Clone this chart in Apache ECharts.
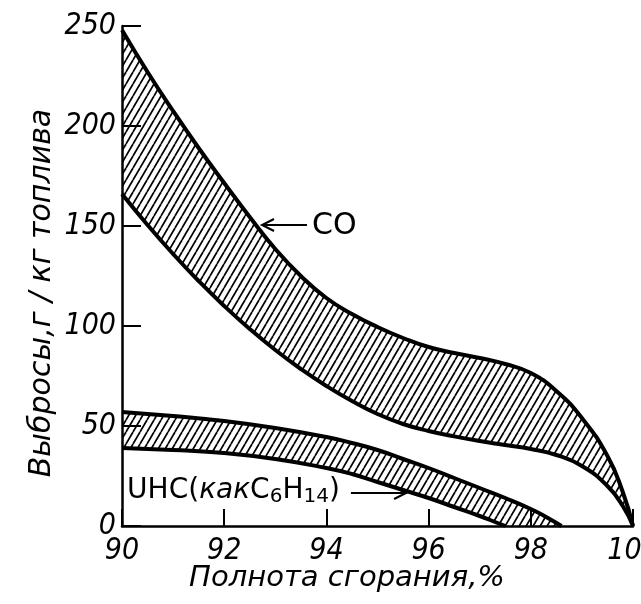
<!DOCTYPE html>
<html>
<head>
<meta charset="utf-8">
<script src="https://cdn.jsdelivr.net/npm/echarts@6/dist/echarts.min.js"></script>
<style>
  html, body { margin: 0; padding: 0; background: #fff; }
  #chart { width: 641px; height: 604px; }
</style>
</head>
<body>
<div id="chart"></div>
<script>
// Combustion completeness, % — CO emission band (upper / lower limits, g per kg fuel)
const coX    = [90, 90.5, 91, 91.5, 92, 92.5, 93, 93.5, 94, 94.5, 95, 95.5, 96, 96.5, 97, 97.5, 98, 98.5, 99, 99.5, 99.8, 100];
const coHigh = [248, 227, 207.5, 189, 171.5, 154.5, 138.5, 125, 114, 106, 99.5, 94, 89.5, 86.5, 84, 81, 76.5, 67.5, 54, 35, 17, 0];
const coLow  = [166, 150.5, 136, 122.5, 110, 98.5, 88, 78.5, 70, 62.5, 56, 51, 47.5, 44.8, 42.5, 40.5, 38.5, 35.5, 30, 20, 10, 0];

// Unburned hydrocarbons (as C6H14) band
const uhcHighX = [90, 91, 92, 93, 94, 94.5, 95, 95.5, 96, 96.5, 97, 97.5, 98, 98.3, 98.6];
const uhcHigh  = [57, 55, 52.5, 49, 44.5, 41.5, 38, 33.5, 29, 24, 19, 14, 8.5, 4.5, 0];
const uhcLowX  = [90, 91, 92, 93, 94, 94.5, 95, 95.5, 96, 96.5, 97, 97.3, 97.5];
const uhcLow   = [39, 38, 36.5, 33.5, 29, 26, 22, 18, 14, 9.5, 5, 2, 0];

// Axis ticks
const xTicks = [90, 92, 94, 96, 98, 100];
const yTicks = [0, 50, 100, 150, 200, 250];

const zip = (xs, ys) => xs.map((x, i) => [x, ys[i]]);

const DIGIT_FONT = "'Liberation Sans Narrow', 'DejaVu Sans Condensed', 'Liberation Sans', sans-serif";
const TEXT_FONT = "'DejaVu Sans', 'Liberation Sans', sans-serif";

// Diagonal hatch tile used to fill the bands
function hatchTile() {
  const w = 7, h = 12;
  const c = document.createElement('canvas');
  c.width = w; c.height = h;
  const g = c.getContext('2d');
  g.strokeStyle = '#000';
  g.lineWidth = 1.7;
  for (const dx of [-w, 0, w]) {
    g.beginPath();
    g.moveTo(dx, h);
    g.lineTo(dx + w, 0);
    g.stroke();
  }
  return c;
}
const hatch = { image: hatchTile(), repeat: 'repeat' };

const edge = { color: '#000', width: 4 };

function bandEdge(name, data, fill, z) {
  return {
    name, type: 'line', data, z,
    smooth: 0.5,
    showSymbol: false, symbol: 'none',
    lineStyle: edge,
    areaStyle: { color: fill, opacity: 1 },
    silent: true
  };
}

const chart = echarts.init(document.getElementById('chart'), null, { renderer: 'canvas' });

chart.setOption({
  animation: false,
  backgroundColor: '#fff',
  grid: { left: 122, right: 8, top: 26, bottom: 78, containLabel: false, outerBoundsMode: 'none' },
  xAxis: {
    type: 'value',
    min: xTicks[0], max: xTicks[xTicks.length - 1],
    interval: xTicks[1] - xTicks[0],
    z: 10,
    axisLine: { onZero: false, lineStyle: { color: '#000', width: 2.5 } },
    axisTick: { inside: true, length: 17, lineStyle: { color: '#000', width: 2 } },
    splitLine: { show: false },
    axisLabel: {
      color: '#000', fontSize: 30, fontStyle: 'italic', fontFamily: DIGIT_FONT,
      margin: 10, showMinLabel: true, showMaxLabel: true
    }
  },
  yAxis: {
    type: 'value',
    min: yTicks[0], max: yTicks[yTicks.length - 1],
    interval: yTicks[1] - yTicks[0],
    z: 10,
    axisLine: { show: true, lineStyle: { color: '#000', width: 2.5 } },
    axisTick: { show: true, inside: true, length: 19, lineStyle: { color: '#000', width: 2 } },
    splitLine: { show: false },
    axisLabel: {
      color: '#000', fontSize: 30, fontStyle: 'italic', fontFamily: DIGIT_FONT, margin: 6
    }
  },
  series: [
    bandEdge('CO верх', zip(coX, coHigh), hatch, 2),
    bandEdge('CO низ', zip(coX, coLow), '#fff', 3),
    bandEdge('UHC верх', zip(uhcHighX, uhcHigh), hatch, 4),
    bandEdge('UHC низ', zip(uhcLowX, uhcLow), '#fff', 5)
  ]
});

// Annotations, anchored in data units
const px = (p) => chart.convertToPixel({ gridIndex: 0 }, p);

function arrow(fromD, toD) {
  const a = px(fromD), b = px(toD);
  const dir = Math.sign(b[0] - a[0]);
  return [
    { type: 'line', z: 20, shape: { x1: a[0], y1: a[1], x2: b[0], y2: b[1] },
      style: { stroke: '#000', lineWidth: 2 } },
    { type: 'polyline', z: 20,
      shape: { points: [[b[0] - dir * 12, b[1] - 6], [b[0], b[1]], [b[0] - dir * 12, b[1] + 6]] },
      style: { stroke: '#000', lineWidth: 2, fill: null } }
  ];
}

const coLabel = px([93.72, 150]);
const uhcLabel = px([90.1, 17]);

chart.setOption({
  graphic: [
    ...arrow([93.62, 150.5], [92.74, 150.5]),
    { type: 'text', z: 20, x: coLabel[0], y: coLabel[1],
      style: { text: 'CO', fontSize: 30, fontFamily: TEXT_FONT, fill: '#000',
               align: 'left', verticalAlign: 'middle' } },
    ...arrow([94.48, 16.5], [95.56, 16.5]),
    { type: 'text', z: 20, x: uhcLabel[0], y: uhcLabel[1],
      style: {
        text: '{n|UHC(}{i|как}{n|C}{s6|6}{n|H}{s14|14}{n|)}',
        fill: '#000', align: 'left', verticalAlign: 'middle',
        rich: {
          n: { fontSize: 28, fontFamily: TEXT_FONT, lineHeight: 30, verticalAlign: 'top' },
          i: { fontSize: 28, fontFamily: TEXT_FONT, fontStyle: 'italic', lineHeight: 30, verticalAlign: 'top' },
          s6: { fontSize: 20, fontFamily: TEXT_FONT, lineHeight: 20, padding: [14, 0, 0, 0], verticalAlign: 'bottom' },
          s14: { fontSize: 20, fontFamily: TEXT_FONT, lineHeight: 20, padding: [20, 0, 0, 0], verticalAlign: 'bottom' }
        }
      } },
    { type: 'text', z: 20, x: 347, y: 578,
      style: { text: 'Полнота сгорания,%', fontSize: 29, fontStyle: 'italic', fontFamily: TEXT_FONT,
               fill: '#000', align: 'center', verticalAlign: 'middle' } },
    { type: 'text', z: 20, x: 42, y: 293, rotation: Math.PI / 2,
      style: { text: 'Выбросы,г / кг топлива', fontSize: 30, fontStyle: 'italic', fontFamily: TEXT_FONT,
               fill: '#000', align: 'center', verticalAlign: 'middle' } }
  ]
});
</script>
</body>
</html>
